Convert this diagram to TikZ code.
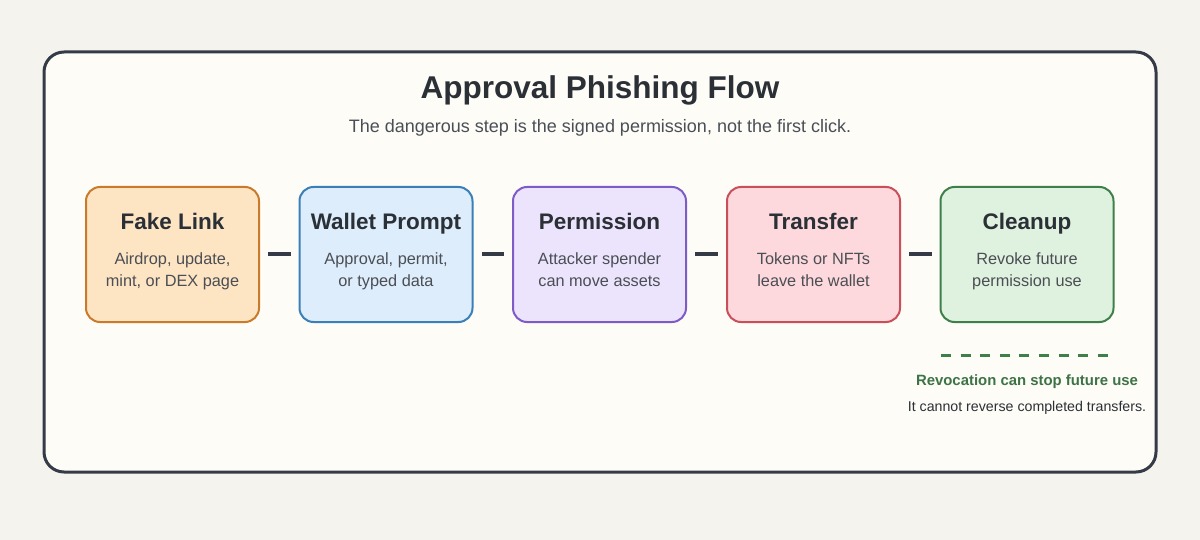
\documentclass[tikz,border=0pt]{standalone}
\usepackage{fontspec}
\setmainfont{Liberation Sans}
\definecolor{bg}{HTML}{F5F3EE}
\definecolor{panel}{HTML}{FDFCF7}
\definecolor{ink}{HTML}{2B2F36}
\definecolor{frame}{HTML}{343A46}
\definecolor{sub}{HTML}{4A4F57}
\definecolor{oF}{HTML}{FDE5C4}\definecolor{oB}{HTML}{C97A2A}
\definecolor{bF}{HTML}{DDEDFB}\definecolor{bB}{HTML}{3A7FB8}
\definecolor{pF}{HTML}{ECE4FC}\definecolor{pB}{HTML}{7E5CC8}
\definecolor{rF}{HTML}{FDD9DD}\definecolor{rB}{HTML}{C9505B}
\definecolor{gF}{HTML}{DFF2DF}\definecolor{gB}{HTML}{3F7F4A}
\definecolor{gT}{HTML}{3D7347}
\tikzset{
  stepbox/.style={draw, line width=2pt, rounded corners=14pt, minimum width=173pt, minimum height=135pt, inner sep=0pt},
  btitle/.style={font=\fontsize{22.5}{26}\selectfont\bfseries, text=ink, inner sep=0pt, anchor=base},
  bdesc/.style={font=\fontsize{16.3}{22}\selectfont, text=ink!85, align=center, inner sep=0pt, anchor=north},
  link/.style={draw=frame, line width=4pt},
}
\begin{document}
\begin{tikzpicture}[x=1pt,y=-1pt]
\fill[bg] (0,0) rectangle (1200,540);
\useasboundingbox (0,0) rectangle (1200,540);
\draw[frame, line width=3pt, fill=panel, rounded corners=20pt] (44,52) rectangle (1156,472);
\node[font=\fontsize{31.5}{36}\selectfont\bfseries, text=ink] (title) at (600,90) {Approval Phishing Flow};
\node[font=\fontsize{18}{22}\selectfont, text=sub] (subtitle) at (600,128) {The dangerous step is the signed permission, not the first click.};

\node[stepbox, draw=oB, fill=oF] (b1) at (172.5,254.5) {};
\node[stepbox, draw=bB, fill=bF] (b2) at (386,254.5) {};
\node[stepbox, draw=pB, fill=pF] (b3) at (599.5,254.5) {};
\node[stepbox, draw=rB, fill=rF] (b4) at (813.5,254.5) {};
\node[stepbox, draw=gB, fill=gF] (b5) at (1027,254.5) {};

\node[btitle] (t1) at (172.5,230) {Fake Link};
\node[btitle] (t2) at (386,230) {Wallet Prompt};
\node[btitle] (t3) at (599.5,230) {Permission};
\node[btitle] (t4) at (813.5,230) {Transfer};
\node[btitle] (t5) at (1027,230) {Cleanup};

\node[bdesc] (d1) at (172.5,252.5) {Airdrop, update,\\mint, or DEX page};
\node[bdesc] (d2) at (386,252.5) {Approval, permit,\\or typed data};
\node[bdesc] (d3) at (599.5,252.5) {Attacker spender\\can move assets};
\node[bdesc] (d4) at (813.5,252.5) {Tokens or NFTs\\leave the wallet};
\node[bdesc] (d5) at (1027,252.5) {Revoke future\\permission use};

\draw[link] ([xshift=8pt]b1.east) -- ([xshift=-8pt]b2.west);
\draw[link] ([xshift=8pt]b2.east) -- ([xshift=-8pt]b3.west);
\draw[link] ([xshift=8pt]b3.east) -- ([xshift=-8pt]b4.west);
\draw[link] ([xshift=8pt]b4.east) -- ([xshift=-8pt]b5.west);

\coordinate (r1) at (941,355);
\coordinate (r2) at (1108,355);
\draw[gB, line width=3pt, dash pattern=on 10pt off 9.6pt] (r1) -- (r2);
\node[font=\fontsize{14.9}{18}\selectfont\bfseries, text=gT] (rev) at (1027,382) {Revocation can stop future use};
\node[font=\fontsize{14.2}{17}\selectfont, text=ink] (rev2) at (1027,408) {It cannot reverse completed transfers.};
\end{tikzpicture}
\end{document}
